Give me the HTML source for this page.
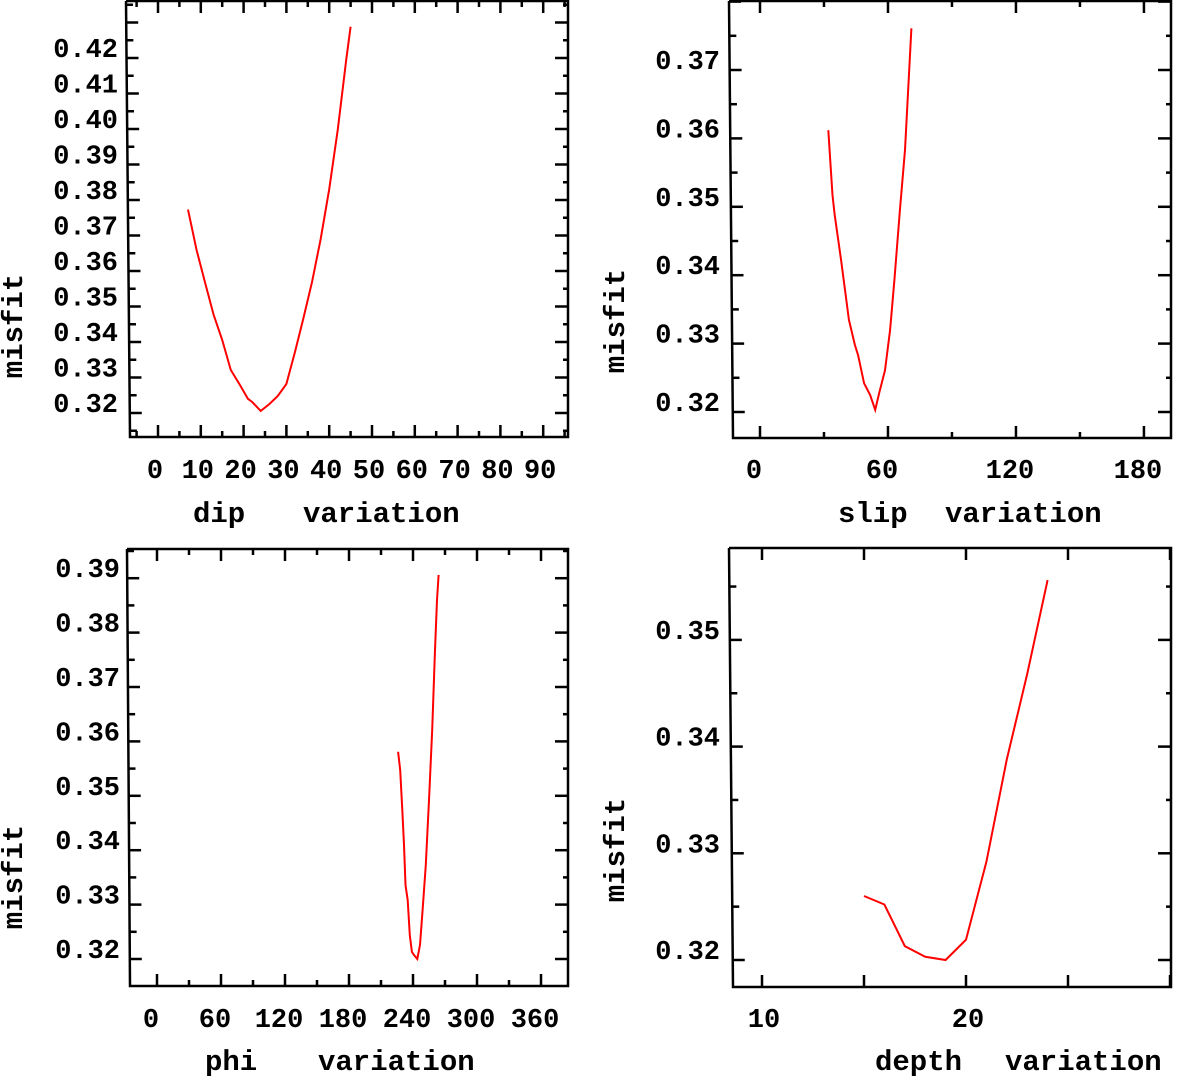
<!DOCTYPE html>
<html><head><meta charset="utf-8">
<style>
html,body{margin:0;padding:0;background:#fff;}
svg{display:block;}
text{font-family:"Liberation Mono",monospace;font-weight:bold;fill:#000;}
</style></head>
<body>
<svg id="chart" width="1183" height="1076" viewBox="0 0 1183 1076" xmlns="http://www.w3.org/2000/svg"></svg>
<script>
// ---- data ----
const dipValues = [7,9,11,13,15,17,19,21,22,24,26,28,30,32,34,36,38,40,42,44,45];
const dipMisfit = [0.3773,0.3660,0.3567,0.3477,0.3406,0.3321,0.3282,0.3240,0.3231,0.3206,0.3225,0.3248,0.3282,0.3372,0.3468,0.3570,0.3689,0.3830,0.3999,0.4197,0.4288];
const slipValues = [32,34,35,38,41.7,44.5,46,48.8,51.6,54,56,58.6,61,63,65.6,68,71];
const slipMisfit = [0.3612,0.3517,0.3488,0.3422,0.3335,0.3298,0.3283,0.3242,0.3225,0.3203,0.3229,0.3261,0.3320,0.3393,0.3495,0.3583,0.3761];
const phiValues = [226,228,230,231.6,233,235,237,239,241,244,246.6,249,252,255,258,260.6,262.5,264];
const phiMisfit = [0.3581,0.3547,0.3474,0.3410,0.3336,0.3308,0.3244,0.3213,0.3207,0.3200,0.3226,0.3290,0.3373,0.3492,0.3621,0.3768,0.3860,0.3906];
const depthValues = [15,16,17,18,19,20,21,22,23,24];
const depthMisfit = [0.3260,0.3252,0.3213,0.3203,0.3200,0.3219,0.3292,0.3388,0.3468,0.3556];
const dipTicks = [0,10,20,30,40,50,60,70,80,90];
const slipTicks = [0,60,120,180];
const phiTicks = [0,60,120,180,240,300,360];
const depthTicks = [10,20];
const dipYTicks = [0.32,0.33,0.34,0.35,0.36,0.37,0.38,0.39,0.40,0.41,0.42];
const slipYTicks = [0.32,0.33,0.34,0.35,0.36,0.37];
const phiYTicks = [0.32,0.33,0.34,0.35,0.36,0.37,0.38,0.39];
const depthYTicks = [0.32,0.33,0.34,0.35];

const NS="http://www.w3.org/2000/svg";
const svg=document.getElementById('chart');
function mk(tag,attrs,parent){const e=document.createElementNS(NS,tag);for(const k in attrs)e.setAttribute(k,attrs[k]);(parent||svg).appendChild(e);return e;}

const panels=[
 {id:'dip',xs:dipValues,ys:dipMisfit,xt:dipTicks,yt:dipYTicks,xMinorStep:5,dec:2,
  L0:126,L1:130,R:568,T:1,B:437,x0:158,xk:4.28,xv0:0,y0:413,yk:3550,
  xlab:'dip',xlabX:193,varX:303,titleY:522,misX:22,misY:326,ylabR:118,xlY:478,xlOff:-3},
 {id:'slip',xs:slipValues,ys:slipMisfit,xt:slipTicks,yt:slipYTicks,xMinorStep:30,dec:2,
  L0:729,L1:733,R:1171,T:1,B:438,x0:760,xk:2.133,xv0:0,y0:412,yk:6840,
  xlab:'slip',xlabX:838,varX:945,titleY:522,misX:624,misY:321,ylabR:720,xlY:478,xlOff:-6},
 {id:'phi',xs:phiValues,ys:phiMisfit,xt:phiTicks,yt:phiYTicks,xMinorStep:30,dec:2,
  L0:127,L1:130,R:568,T:549,B:986,x0:157,xk:1.0667,xv0:0,y0:959,yk:5440,
  xlab:'phi',xlabX:205,varX:318,titleY:1070,misX:22,misY:877,ylabR:120,xlY:1027,xlOff:-6},
 {id:'depth',xs:depthValues,ys:depthMisfit,xt:depthTicks,yt:depthYTicks,xMinorStep:5,dec:2,
  L0:729,L1:733,R:1171,T:548,B:987,x0:762,xk:20.4,xv0:10,y0:960,yk:10670,
  xlab:'depth',xlabX:875,varX:1005,titleY:1070,misX:624,misY:850,ylabR:720,xlY:1027,xlOff:2}
];

panels.forEach(p=>{
  const g=mk('g',{});
  
  
  const X=v=>p.x0+(v-p.xv0)*p.xk;
  const Y=v=>p.y0-(v-0.32)*p.yk;
  // frame
  const fr=mk('path',{d:`M${p.L0},${p.T} L${p.L1},${p.B} L${p.R},${p.B} L${p.R},${p.T} L${p.L0},${p.T}`,fill:'none',stroke:'#000','stroke-width':2.5},g);
  
  
  // x ticks (major + minor)
  const xmin=p.xv0+(p.L1-p.x0)/p.xk, xmax=p.xv0+(p.R-p.x0)/p.xk;
  const step=p.xMinorStep;
  for(let v=Math.ceil(xmin/step)*step; v<=xmax; v+=step){
    const major=p.xt.includes(v)||(p.id==='depth');
    const len=major?12:6;
    const x=X(v);
    mk('line',{x1:x,y1:p.B,x2:x,y2:p.B-len,stroke:'#000','stroke-width':2.5},g);
    mk('line',{x1:x,y1:p.T,x2:x,y2:p.T+len,stroke:'#000','stroke-width':2.5},g);
  }
  p.xt.forEach(v=>{
    const t=mk('text',{x:X(v)+p.xlOff,y:p.xlY,'font-size':27,'text-anchor':'middle'},g);
    t.textContent=String(v);
    
    
  });
  // y ticks
  const ymin=0.32-(p.B-p.y0)/p.yk, ymax=0.32+(p.y0-p.T)/p.yk;
  for(let i=Math.ceil(ymin/0.005-1e-6); i*0.005<=ymax; i++){
    const v=i*0.005, y=Y(v);
    const major=(i%2===0);
    const xl=p.L0+(p.L1-p.L0)*(y-p.T)/(p.B-p.T);
    mk('line',{x1:xl,y1:y,x2:xl+(major?12:7),y2:y,stroke:'#000','stroke-width':2.5},g);
    mk('line',{x1:p.R,y1:y,x2:p.R-(major?13:5),y2:y,stroke:'#000','stroke-width':2.5},g);
  }
  p.yt.forEach(v=>{
    const t=mk('text',{x:p.ylabR,y:Y(v)-1,'font-size':27,'text-anchor':'end'},g);
    t.textContent=v.toFixed(p.dec);
    
    
  });
  // series
  const d=p.xs.map((v,i)=>(i?'L':'M')+X(v).toFixed(1)+','+Y(p.ys[i]).toFixed(1)).join(' ');
  const ln=mk('path',{d:d,fill:'none',stroke:'#ff0000','stroke-width':2},g);
  
  
  // titles
  const t1=mk('text',{x:p.xlabX,y:p.titleY,'font-size':29},g);
  t1.textContent=p.xlab;
  
  
  const t2=mk('text',{x:p.varX,y:p.titleY,'font-size':29},g);
  t2.textContent='variation';
  
  
  const t3=mk('text',{x:p.misX,y:p.misY,'font-size':29,'text-anchor':'middle',transform:`rotate(-90 ${p.misX} ${p.misY})`},g);
  t3.textContent='misfit';
  
  
});
</script>
</body></html>
